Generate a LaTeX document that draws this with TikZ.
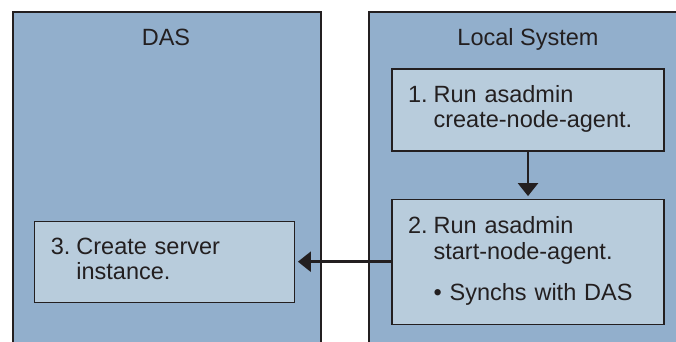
\documentclass[tikz,border=0pt]{standalone}
\usepackage{fontspec}
\setmainfont{Liberation Sans}
\usetikzlibrary{positioning}
\usetikzlibrary{arrows.meta}

\definecolor{sysblue}{RGB}{146,175,204}
\definecolor{taskblue}{RGB}{184,204,220}
\definecolor{edgegray}{RGB}{35,31,32}

\begin{document}
\begin{tikzpicture}
          [x=1pt, y=1pt, node distance={47pt},
           font=\fontsize{23.5}{25.5}\selectfont,
           system/.style = {draw=edgegray, line width=2pt, fill=sysblue, anchor=north west, inner sep=0pt},
           heading/.style = {anchor=base, inner sep=0pt, text=edgegray},
           task/.style = {draw=edgegray, line width=1.2pt, fill=taskblue, align=left, inner xsep=16pt, inner ysep=0pt, text=edgegray},
           flow/.style = {draw=edgegray, line width=2.5pt, shorten >=2.5pt, -{Triangle[length=13pt, width=20pt]}}]
          \useasboundingbox (0,0) rectangle (676,-342);
          \clip (0,0) rectangle (676,-342);
          % the two systems, open at the bottom
          \node[system, minimum width=308pt, minimum height=345pt] (das) at (12,-11) {};
          \node[system, minimum width=330pt, minimum height=345pt] (local) at (368,-11) {};
          \node[heading] (dastitle) at (166,-46) {DAS};
          \node[heading] (localtitle) at (528,-46) {Local System};

          \node[task, text width=240pt, minimum height=82pt] (step1) at (528,-110)
            {\begin{tabular}{@{}l@{\hspace{6pt}}l@{}}1.&Run asadmin\\&create-node-agent.\end{tabular}};
          \node[task, text width=240pt, minimum height=125pt] (step2) [below=of step1]
            {\begin{tabular}{@{}l@{\hspace{6pt}}l@{}}2.&Run asadmin\\&start-node-agent.\\[15.5pt]&\textbullet\ Synchs with DAS\end{tabular}};
          \node[task, text width=228pt, minimum height=81pt] (step3) [left=96pt of step2]
            {\begin{tabular}{@{}l@{\hspace{6pt}}l@{}}3.&Create server\\&instance.\end{tabular}};

          \draw[flow] (step1) to (step2);
          \draw[flow] (step2) to (step3);
\end{tikzpicture}
\end{document}
